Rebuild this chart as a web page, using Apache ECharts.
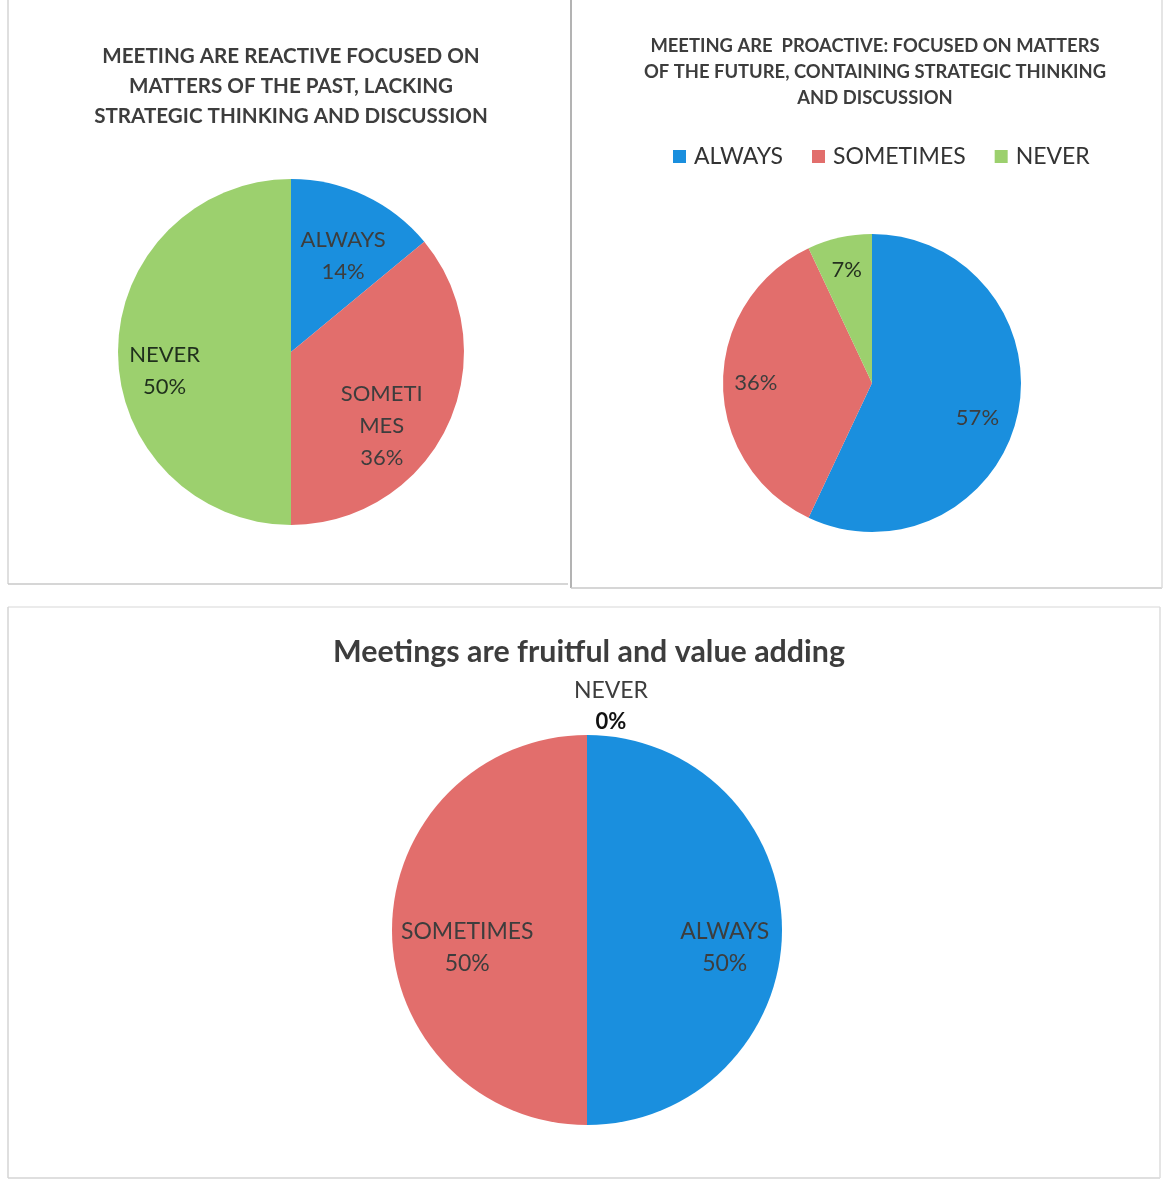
<!DOCTYPE html>
<html>
<head>
<meta charset="utf-8">
<title>Meetings survey</title>
<script src="https://cdn.jsdelivr.net/npm/echarts@6/dist/echarts.min.js"></script>
<style>
  html, body { margin: 0; background: #fff; }
  #chart { width: 1164px; height: 1181px; }
</style>
</head>
<body>
<div id="chart"></div>
<script>
// answer categories, same order in every pie
const categories = ["ALWAYS", "SOMETIMES", "NEVER"];
// shares in percent
const reactiveShares = [14, 36, 50];
const proactiveShares = [57, 36, 7];
const fruitfulShares = [50, 50, 0];
const sliceColors = ["#1A8FDE", "#E26E6C", "#9CD06E"];

const reactiveTitle =
  "MEETING ARE REACTIVE FOCUSED ON\nMATTERS OF THE PAST, LACKING\nSTRATEGIC THINKING AND DISCUSSION";
const proactiveTitle =
  "MEETING ARE  PROACTIVE: FOCUSED ON MATTERS\nOF THE FUTURE, CONTAINING STRATEGIC THINKING\nAND DISCUSSION";
const fruitfulTitle = "Meetings are fruitful and value adding";

const FONT = "Lato, 'Noto Sans', sans-serif";
const TEXT_COLOR = "#3d3d3d";

// small label nudges so they sit where the original chart put them
const reactiveNudge = [{ dy: 15 }, { dx: -20, dy: 22 }, { dx: -4, dy: 19 }];
const proactiveNudge = [{ dx: -8, dy: 10 }, {}, {}];
const fruitfulNudge = [{ dx: 8, dy: 18 }, { dx: 10, dy: 18 }, { dx: 96, dy: -14 }];

const toData = (values) =>
  categories.map((name, i) => ({
    name,
    value: values[i],
    itemStyle: { color: sliceColors[i] },
  }));

// base pie draws the slices, a transparent ring on top carries the labels
// so they sit further out than the default "inside" position
const pieWithLabels = (values, center, radius, labelRing, label, nudge, tweak) => {
  const labelData = toData(values).map((d) => ({
    ...d,
    itemStyle: { color: "rgba(0,0,0,0)" },
  }));
  if (tweak) tweak(labelData);
  return [
    {
      type: "pie",
      center,
      radius,
      startAngle: 90,
      clockwise: true,
      silent: true,
      label: { show: false },
      labelLine: { show: false },
      itemStyle: { borderWidth: 0 },
      data: toData(values),
    },
    {
      type: "pie",
      center,
      radius: [radius * labelRing, radius],
      startAngle: 90,
      clockwise: true,
      silent: true,
      legendHoverLink: false,
      labelLine: { show: false },
      itemStyle: { borderWidth: 0 },
      label: {
        show: true,
        position: "inside",
        color: TEXT_COLOR,
        fontFamily: FONT,
        ...label,
      },
      labelLayout: (p) => nudge[p.dataIndex] || {},
      data: labelData,
    },
  ];
};

const chart = echarts.init(document.getElementById("chart"), null, {
  renderer: "canvas",
});

const frameLine = (x1, y1, x2, y2, stroke) => ({
  type: "line",
  shape: { x1, y1, x2, y2 },
  style: { stroke, lineWidth: 1.5 },
  silent: true,
});

chart.setOption({
  animation: false,
  backgroundColor: "#fff",
  textStyle: { fontFamily: FONT },
  title: [
    {
      text: reactiveTitle,
      left: 291,
      top: 41,
      padding: 0,
      textAlign: "center",
      textStyle: {
        fontSize: 20.6,
        fontWeight: "bold",
        lineHeight: 30,
        color: TEXT_COLOR,
        fontFamily: FONT,
      },
    },
    {
      text: proactiveTitle,
      left: 875,
      top: 33,
      padding: 0,
      textAlign: "center",
      textStyle: {
        fontSize: 18.4,
        fontWeight: "bold",
        lineHeight: 26,
        color: TEXT_COLOR,
        fontFamily: FONT,
      },
    },
    {
      text: fruitfulTitle,
      left: 589,
      top: 634,
      padding: 0,
      textAlign: "center",
      textStyle: {
        fontSize: 30.4,
        fontWeight: "bold",
        lineHeight: 36,
        color: TEXT_COLOR,
        fontFamily: FONT,
      },
    },
  ],
  legend: {
    data: categories,
    left: 668,
    top: 140,
    icon: "rect",
    itemWidth: 13,
    itemHeight: 13,
    itemGap: 29,
    selectedMode: false,
    textStyle: {
      fontSize: 23,
      color: "#333",
      fontFamily: FONT,
      padding: [0, 0, 0, 3],
    },
  },
  graphic: [
    frameLine(8, 0, 8, 584, "#d4d4d4"),
    frameLine(8, 584, 568, 584, "#c8c8c8"),
    frameLine(571, 0, 571, 588, "#9a9a9a"),
    frameLine(571, 588, 1162, 588, "#c8c8c8"),
    frameLine(1162, 0, 1162, 588, "#dcdcdc"),
    frameLine(8, 607, 1160, 607, "#e4e4e4"),
    frameLine(8, 607, 8, 1178, "#d4d4d4"),
    frameLine(8, 1178, 1160, 1178, "#d4d4d4"),
    frameLine(1160, 607, 1160, 1178, "#dcdcdc"),
  ],
  series: [
    ...pieWithLabels(
      reactiveShares,
      [291, 352],
      173,
      0.38,
      {
        fontSize: 22,
        lineHeight: 32,
        width: 93,
        overflow: "breakAll",
        formatter: "{b}\n{c}%",
      },
      reactiveNudge,
      (data) => {
        data[2].label = { color: "#1f2f1c" };
      }
    ),
    ...pieWithLabels(
      proactiveShares,
      [872, 383],
      149,
      0.52,
      { fontSize: 22, formatter: "{c}%" },
      proactiveNudge,
      (data) => {
        data[2].label = { color: "#24301f" };
      }
    ),
    ...pieWithLabels(
      fruitfulShares,
      [587, 930],
      195,
      0.3,
      {
        fontSize: 23,
        lineHeight: 32,
        formatter: "{b}\n{c}%",
      },
      fruitfulNudge,
      (data) => {
        // zero slice: label above the pie, outside
        data[2].label = {
          position: "outside",
          formatter: "{n|{b}}\n{p|{c}%}",
          rich: {
            n: { fontSize: 23, lineHeight: 31, color: TEXT_COLOR, align: "center", fontFamily: FONT },
            p: { fontSize: 22, lineHeight: 31, color: "#111", fontWeight: "bold", align: "center", fontFamily: FONT },
          },
        };
      }
    ),
  ],
});
</script>
</body>
</html>
